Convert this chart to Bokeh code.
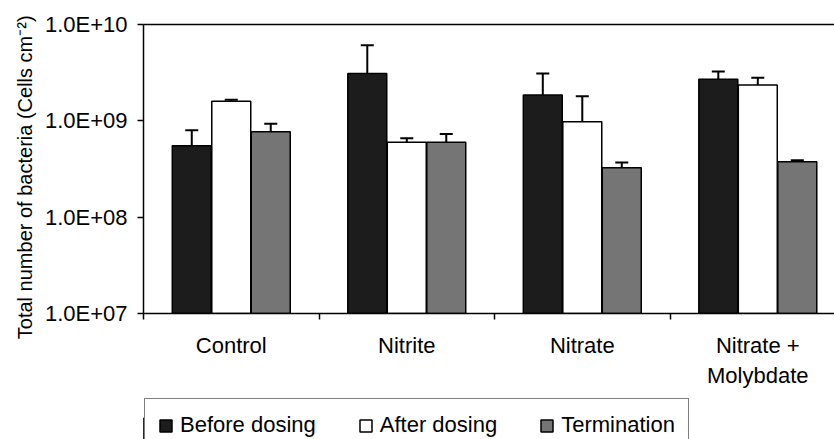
from bokeh.plotting import figure
from bokeh.layouts import column
from bokeh.models import (ColumnDataSource, Range1d, FixedTicker, CustomJSTickFormatter,
                          Whisker, TeeHead, Legend, LegendItem, LinearAxis)
from bokeh.embed import file_html
from bokeh.resources import INLINE

categories = ["Control", "Nitrite", "Nitrate", "Nitrate +\nMolybdate"]
series_names = ["Before dosing", "After dosing", "Termination"]
before = [5.5e8, 3.1e9, 1.85e9, 2.7e9]
before_sd = [2.5e8, 3.0e9, 1.25e9, 5.5e8]
after = [1.6e9, 6.0e8, 9.8e8, 2.35e9]
after_sd = [6.0e7, 6.0e7, 8.2e8, 4.5e8]
termination = [7.7e8, 6.0e8, 3.25e8, 3.75e8]
termination_sd = [1.6e8, 1.3e8, 4.5e7, 1.5e7]
colors = ["#1c1c1c", "#ffffff", "#757575"]

FONT = "Liberation Sans"

p = figure(width=834, height=397, output_backend="svg", toolbar_location=None,
           y_axis_type="log", x_range=Range1d(0, 3.937), y_range=Range1d(1e7, 1e10),
           min_border_left=143, min_border_right=0, min_border_top=24, min_border_bottom=84)
p.xgrid.visible = False
p.ygrid.visible = False
p.outline_line_color = None
p.background_fill_color = "white"
p.border_fill_color = "white"

offsets = [-0.225, 0.0, 0.225]
for j, (vals, sds) in enumerate([(before, before_sd), (after, after_sd), (termination, termination_sd)]):
    xs = [i + 0.5 + offsets[j] for i in range(len(categories))]
    upper = [v + s for v, s in zip(vals, sds)]
    src = ColumnDataSource(dict(x=xs, top=vals, upper=upper))
    p.vbar(x="x", top="top", bottom=1e7, width=0.222, source=src,
           fill_color=colors[j], line_color="black", line_width=1.5)
    w = Whisker(source=src, base="x", lower="top", upper="upper", dimension="height",
                line_color="black", line_width=2,
                upper_head=TeeHead(size=13, line_width=2, line_color="black"),
                lower_head=None)
    p.add_layout(w)

# y axis
p.yaxis.ticker = FixedTicker(ticks=[1e7, 1e8, 1e9, 1e10], minor_ticks=[])
p.yaxis.formatter = CustomJSTickFormatter(
    code="const e = Math.round(Math.log10(tick)); return '1.0E+' + (e < 10 ? '0' : '') + e;")
p.yaxis.major_tick_out = 6
p.yaxis.major_tick_in = 0
p.yaxis.major_tick_line_width = 1.5
p.yaxis.axis_line_width = 1.5
p.yaxis.major_label_standoff = 10
p.yaxis.major_label_text_font = FONT
p.yaxis.major_label_text_font_size = "22px"
p.yaxis.major_label_text_color = "black"
p.yaxis.axis_label = "Total number of bacteria (Cells cm\u207b\u00b2)\u00a0\u00a0\u00a0"
p.yaxis.axis_label_text_font = FONT
p.yaxis.axis_label_text_font_size = "20px"
p.yaxis.axis_label_text_font_style = "normal"
p.yaxis.axis_label_text_color = "black"
p.yaxis.axis_label_standoff = 6

# x axis
p.xaxis.ticker = FixedTicker(ticks=[0.5, 1.5, 2.5, 3.5], minor_ticks=[0, 1, 2, 3, 4])
p.xaxis.formatter = CustomJSTickFormatter(
    args=dict(labels=categories),
    code="const i = Math.floor(tick); return (i >= 0 && i < labels.length) ? labels[i] : '';")
p.xaxis.major_tick_out = 0
p.xaxis.major_tick_in = 0
p.xaxis.minor_tick_out = 6
p.xaxis.minor_tick_in = 0
p.xaxis.minor_tick_line_color = "black"
p.xaxis.minor_tick_line_width = 1.5
p.xaxis.axis_line_width = 1.5
p.xaxis.major_label_standoff = 13
p.xaxis.major_label_text_font = FONT
p.xaxis.major_label_text_font_size = "22px"
p.xaxis.major_label_text_color = "black"

# top border line
top = LinearAxis(ticker=FixedTicker(ticks=[]), major_tick_line_color=None,
                 minor_tick_line_color=None, major_label_text_font_size="0px",
                 axis_line_width=1.5)
p.add_layout(top, "above")

# legend strip below the chart
q = figure(width=834, height=42, output_backend="svg", toolbar_location=None,
           x_axis_location=None, y_axis_location=None,
           x_range=Range1d(0, 1), y_range=Range1d(0, 1),
           min_border_left=0, min_border_right=0, min_border_top=0, min_border_bottom=0)
q.xgrid.visible = False
q.ygrid.visible = False
q.outline_line_color = None
q.background_fill_color = "white"
q.border_fill_color = "white"
legend_renderers = []
for c in colors:
    legend_renderers.append(q.vbar(x=[-5], top=[0.5], bottom=0, width=0.1, fill_color=c,
                                   line_color="black", line_width=1.5))
legend = Legend(items=[LegendItem(label=n, renderers=[r]) for n, r in zip(series_names, legend_renderers)],
                orientation="horizontal", location=(1, -13), margin=0,
                glyph_width=15, glyph_height=15, label_standoff=7, spacing=42, padding=13,
                label_text_font=FONT, label_text_font_size="22px", label_text_color="black",
                border_line_color="black", border_line_width=1.5,
                background_fill_color="white", background_fill_alpha=1.0)
q.add_layout(legend)

layout = column(p, q, spacing=0)
open("out.html", "w").write(file_html(layout, INLINE))
